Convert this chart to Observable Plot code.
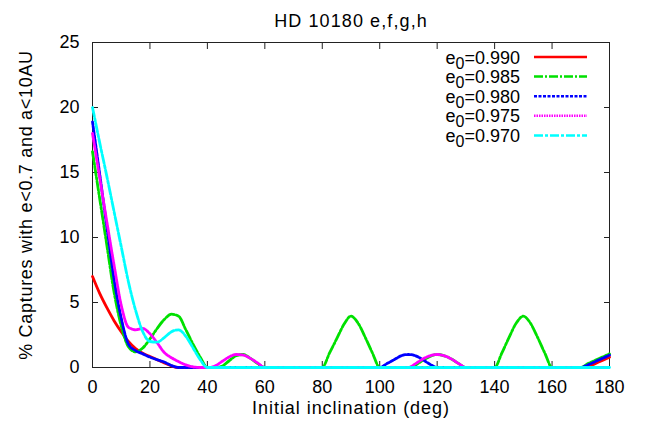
<!DOCTYPE html>
<html><head><meta charset="utf-8">
<script src="https://cdn.jsdelivr.net/npm/d3@7"></script>
<script src="https://cdn.jsdelivr.net/npm/@observablehq/plot@0.6"></script>
<style>
html,body{margin:0;padding:0;background:#fff;}
#chart{width:648px;height:430px;}
</style></head><body><div id="chart"></div>
<script>
const title = "HD 10180 e,f,g,h";
const xLabel = "Initial inclination (deg)";
const yLabel = "% Captures with e<0.7 and a<10AU";
const xTicks = [0, 20, 40, 60, 80, 100, 120, 140, 160, 180];
const yTicks = [0, 5, 10, 15, 20, 25];
const eccentricities = ["0.990", "0.985", "0.980", "0.975", "0.970"];

const inclination = [
  0, 2.5, 5, 7.5, 10, 12.5, 15, 17.5, 20, 22.5,
  25, 27.5, 30, 32.5, 35, 37.5, 40, 42.5, 45, 47.5,
  50, 52.5, 55, 57.5, 60, 62.5, 65, 67.5, 70, 72.5,
  75, 77.5, 80, 82.5, 85, 87.5, 90, 92.5, 95, 97.5,
  100, 102.5, 105, 107.5, 110, 112.5, 115, 117.5, 120, 122.5,
  125, 127.5, 130, 132.5, 135, 137.5, 140, 142.5, 145, 147.5,
  150, 152.5, 155, 157.5, 160, 162.5, 165, 167.5, 170, 172.5,
  175, 177.5, 180
];

const capt990 = [
  7.0, 5.7, 4.6, 3.6, 2.75, 2.0, 1.45, 1.1, 0.85, 0.6,
  0.35, 0.12, 0, 0, 0, 0, 0, 0, 0, 0,
  0, 0, 0, 0, 0, 0, 0, 0, 0, 0,
  0, 0, 0, 0, 0, 0, 0, 0, 0, 0,
  0, 0, 0, 0, 0, 0, 0, 0, 0, 0,
  0, 0, 0, 0, 0, 0, 0, 0, 0, 0,
  0, 0, 0, 0, 0, 0, 0, 0, 0, 0.05,
  0.3, 0.55, 0.8
];
const capt985 = [
  16.6, 13.0, 9.4, 5.8, 3.2, 1.6, 1.2, 1.5, 2.2, 3.0,
  3.7, 4.1, 3.95, 2.9, 1.8, 0.8, 0, 0, 0.1, 0.5,
  0.9, 1.0, 0.7, 0.3, 0, 0, 0, 0, 0, 0,
  0, 0, 0, 1.1, 2.2, 3.3, 3.95, 3.4, 2.3, 1.1,
  0, 0, 0, 0, 0, 0.2, 0.55, 0.85, 1.0, 0.9,
  0.65, 0.3, 0, 0, 0, 0, 0, 1.1, 2.3, 3.4,
  3.95, 3.4, 2.3, 1.1, 0, 0, 0, 0, 0, 0.3,
  0.55, 0.8, 1.05
];
const capt980 = [
  18.9, 14.9, 10.8, 6.8, 3.8, 1.8, 1.3, 1.05, 0.8, 0.6,
  0.42, 0.15, 0, 0, 0, 0, 0, 0, 0, 0,
  0, 0, 0, 0, 0, 0, 0, 0, 0, 0,
  0, 0, 0, 0, 0, 0, 0, 0, 0, 0,
  0, 0.3, 0.6, 0.9, 1.0, 0.9, 0.6, 0.25, 0, 0,
  0, 0, 0, 0, 0, 0, 0, 0, 0, 0,
  0, 0, 0, 0, 0, 0, 0, 0, 0, 0.2,
  0.45, 0.7, 0.95
];
const capt975 = [
  18.0, 14.6, 11.2, 7.9, 4.8, 3.1, 2.9, 3.0, 2.6, 1.9,
  1.15, 0.75, 0.45, 0.2, 0.05, 0, 0, 0.1, 0.45, 0.8,
  1.0, 0.95, 0.7, 0.35, 0, 0, 0, 0, 0, 0,
  0, 0, 0, 0, 0, 0, 0, 0, 0, 0,
  0, 0, 0, 0, 0, 0.3, 0.65, 0.9, 1.0, 0.9,
  0.65, 0.3, 0, 0, 0, 0, 0, 0, 0, 0,
  0, 0, 0, 0, 0, 0, 0, 0, 0, 0,
  0, 0, 0
];
const capt970 = [
  20.0, 17.3, 14.7, 12.0, 9.3, 6.6, 4.4, 2.75, 2.0, 1.95,
  2.3, 2.75, 2.9, 2.4, 1.5, 0.6, 0, 0, 0, 0,
  0, 0, 0, 0, 0, 0, 0, 0, 0, 0,
  0, 0, 0, 0, 0, 0, 0, 0, 0, 0,
  0, 0, 0, 0, 0, 0, 0, 0, 0, 0,
  0, 0, 0, 0, 0, 0, 0, 0, 0, 0,
  0, 0, 0, 0, 0, 0, 0, 0, 0, 0,
  0, 0, 0
];

const series = [capt990, capt985, capt980, capt975, capt970];
const colors = ["#ff0000", "#00e000", "#0000ff", "#ff00ff", "#00ffff"];
const dashes = [null, "9,2,2,2", "3,1.5", "1.5,1", "9,2,3,2"];
const font = "'Liberation Sans', Arial, Helvetica, sans-serif";

const lineMarks = series.map((vals, k) => Plot.line(
  inclination.map((x, i) => ({x, y: vals[i]})),
  {x: "x", y: "y", stroke: colors[k], strokeWidth: 2.8,
   strokeDasharray: dashes[k] || undefined, curve: "monotone-x"}
));

const plot = Plot.plot({
  width: 648, height: 430,
  marginLeft: 92, marginRight: 39, marginTop: 42, marginBottom: 63,
  style: {fontFamily: font, fontSize: "18px", background: "#fff", color: "#000"},
  x: {domain: [0, 180]},
  y: {domain: [0, 25]},
  marks: [
    Plot.frame({stroke: "#222", strokeWidth: 1}),
    Plot.axisX(xTicks, {anchor: "bottom", tickSize: -6, tickPadding: 19, label: null, stroke: "#222"}),
    Plot.axisX(xTicks, {anchor: "top", tickSize: -6, tickFormat: () => "", label: null, stroke: "#222"}),
    Plot.axisY(yTicks, {anchor: "left", tickSize: -6, tickPadding: 19, label: null, stroke: "#222"}),
    Plot.axisY(yTicks, {anchor: "right", tickSize: -6, tickFormat: () => "", label: null, stroke: "#222"}),
    ...lineMarks,
    Plot.text([title], {text: d => d, frameAnchor: "top", dy: -28}),
    Plot.text([xLabel], {text: d => d, frameAnchor: "bottom", dy: 46}),
    Plot.text([yLabel], {text: d => d, frameAnchor: "left", dx: -66, rotate: -90, textAnchor: "middle"})
  ]
});

const svg = d3.select(plot);
const spacing = new Map([[title, "1.1px"], [xLabel, "0.95px"], [yLabel, "0.7px"]]);
svg.selectAll("text").each(function () {
  const s = spacing.get(this.textContent);
  if (s) d3.select(this).attr("letter-spacing", s);
});

const lg = svg.append("g").attr("font-family", font).attr("font-size", 18).attr("fill", "#000");
eccentricities.forEach((e, k) => {
  const y = 57 + k * 19.6;
  const t = lg.append("text").attr("x", 520).attr("y", y + 6.5).attr("text-anchor", "end");
  t.append("tspan").text("e");
  t.append("tspan").attr("font-size", 16).attr("dy", 5).text("0");
  t.append("tspan").attr("dy", -5).text("=" + e);
  const ln = lg.append("line").attr("x1", 534).attr("x2", 587).attr("y1", y).attr("y2", y)
    .attr("stroke", colors[k]).attr("stroke-width", 2.5);
  if (dashes[k]) ln.attr("stroke-dasharray", dashes[k]);
});

document.getElementById("chart").appendChild(plot);
</script>
</body></html>
